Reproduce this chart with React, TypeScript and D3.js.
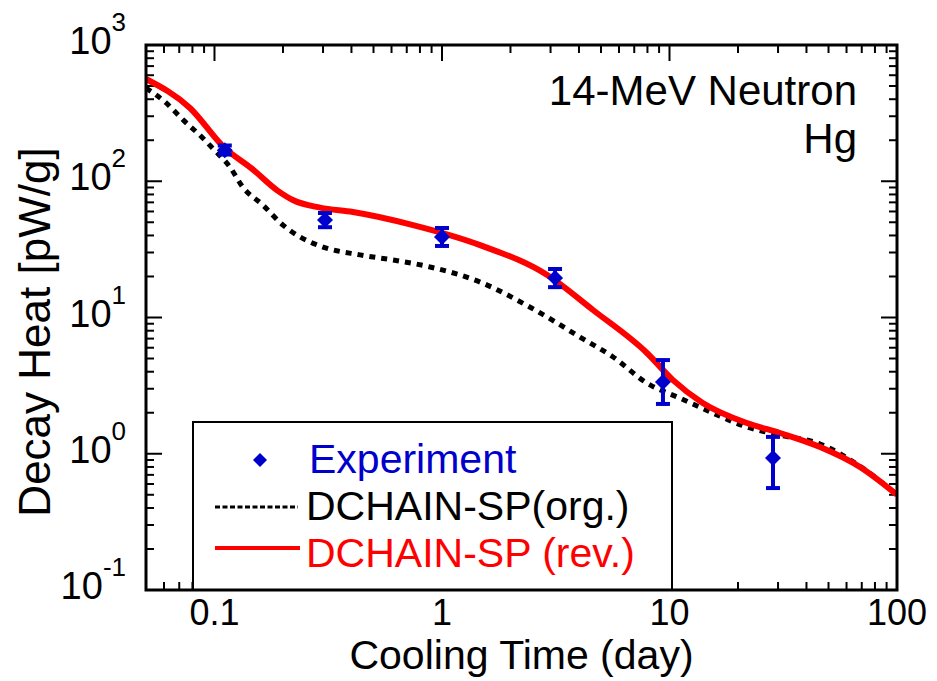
import React from "react";
import * as d3 from "d3";

const W = 937;
const H = 681;

// Experiment: cooling time (day), decay heat (pW/g), error low/high
const expTime = [0.111, 0.306, 1.0, 3.14, 9.36, 28.5];
const expValue = [169, 52, 39, 19.5, 3.36, 0.93];
const expLow = [157, 46, 33.5, 16.7, 2.32, 0.56];
const expHigh = [183, 58.5, 45.4, 22.7, 4.87, 1.33];

// DCHAIN-SP (rev.)
const revTime = [0.05, 0.078, 0.111, 0.145, 0.19, 0.221, 0.291, 0.406, 0.746, 1.47, 2.9, 4.61, 7.96, 10.36, 14.0, 21.9, 30.6, 45.9, 68.7, 100];
const revValue = [563, 345, 175, 125, 85, 72.8, 64, 59.5, 47.7, 34, 20.5, 11.35, 5.49, 3.47, 2.36, 1.68, 1.42, 1.12, 0.8, 0.5];

// DCHAIN-SP (org.)
const orgTime = [0.05, 0.0606, 0.0728, 0.089, 0.098, 0.117, 0.133, 0.163, 0.2, 0.238, 0.3, 0.437, 0.61, 0.885, 1.47, 2.44, 4.04, 5.65, 7.96, 11.1, 15.5, 21.9, 30.6, 45.9, 68.7, 100];
const orgValue = [483, 382, 282, 207, 175, 127, 90.8, 67, 47.7, 39, 32.9, 28.8, 26.4, 23.5, 18.2, 11.9, 7.19, 5.13, 3.3, 2.56, 1.99, 1.57, 1.37, 1.18, 0.81, 0.5];

const xTickValues = [0.1, 1, 10, 100];
const xTickLabels = ["0.1", "1", "10", "100"];
const yExponents = [3, 2, 1, 0, -1];

const BLUE = "#0000cc";
const RED = "#ff0000";
const FONT = "'Liberation Sans', Arial, sans-serif";

export default function App() {
  const left = 146, right = 897, top = 45, bottom = 590;
  const x = d3.scaleLog().domain([0.05, 100]).range([left, right]);
  const y = d3.scaleLog().domain([0.1, 1000]).range([bottom, top]);

  const line = d3
    .line<[number, number]>()
    .x((d) => x(d[0]))
    .y((d) => y(d[1]))
    .curve(d3.curveMonotoneX);

  const revPts = revTime.map((t, i) => [t, revValue[i]] as [number, number]);
  const orgPts = orgTime.map((t, i) => [t, orgValue[i]] as [number, number]);

  const xMinor: number[] = [];
  for (let dec = 0.01; dec < 100; dec *= 10) {
    for (let k = 2; k <= 9; k++) {
      const v = dec * k;
      if (v > 0.05 && v < 100) xMinor.push(+v.toPrecision(3));
    }
  }
  const yMinor: number[] = [];
  for (let dec = 0.1; dec < 1000; dec *= 10) {
    for (let k = 2; k <= 9; k++) yMinor.push(+(dec * k).toPrecision(3));
  }

  const diamond = (cx: number, cy: number, r: number) =>
    `M${cx},${cy - r}L${cx + r},${cy}L${cx},${cy + r}L${cx - r},${cy}Z`;

  const majLen = 16, minLen = 8;

  return (
    <svg width={W} height={H} style={{ position: "absolute", left: 0, top: 0, background: "#fff" }} fontFamily={FONT}>
      <rect x={0} y={0} width={W} height={H} fill="#fff" />
      <defs>
        <clipPath id="plotclip">
          <rect x={left} y={top} width={right - left} height={bottom - top} />
        </clipPath>
      </defs>

      {/* ticks */}
      <g stroke="#000" strokeWidth={2}>
        {xTickValues.map((v) => (
          <g key={"xt" + v}>
            <line x1={x(v)} x2={x(v)} y1={bottom} y2={bottom - majLen} />
            <line x1={x(v)} x2={x(v)} y1={top} y2={top + majLen} />
          </g>
        ))}
        {xMinor.map((v) => (
          <g key={"xm" + v}>
            <line x1={x(v)} x2={x(v)} y1={bottom} y2={bottom - minLen} />
            <line x1={x(v)} x2={x(v)} y1={top} y2={top + minLen} />
          </g>
        ))}
        {yExponents.map((e) => (
          <g key={"yt" + e}>
            <line x1={left} x2={left + majLen} y1={y(Math.pow(10, e))} y2={y(Math.pow(10, e))} />
            <line x1={right} x2={right - majLen} y1={y(Math.pow(10, e))} y2={y(Math.pow(10, e))} />
          </g>
        ))}
        {yMinor.map((v) => (
          <g key={"ym" + v}>
            <line x1={left} x2={left + minLen} y1={y(v)} y2={y(v)} />
            <line x1={right} x2={right - minLen} y1={y(v)} y2={y(v)} />
          </g>
        ))}
      </g>

      {/* curves */}
      <g clipPath="url(#plotclip)">
        <path d={line(orgPts) || ""} fill="none" stroke="#000" strokeWidth={5} strokeDasharray="6,6" />
        <path d={line(revPts) || ""} fill="none" stroke={RED} strokeWidth={6} />
      </g>

      {/* experiment */}
      <g>
        {expTime.map((t, i) => {
          const cx = x(t);
          return (
            <g key={"e" + i} stroke={BLUE} strokeWidth={4}>
              <line x1={cx} x2={cx} y1={y(expLow[i])} y2={y(expHigh[i])} />
              <line x1={cx - 7} x2={cx + 7} y1={y(expLow[i])} y2={y(expLow[i])} />
              <line x1={cx - 7} x2={cx + 7} y1={y(expHigh[i])} y2={y(expHigh[i])} />
              <path d={diamond(cx, y(expValue[i]), 8)} fill={BLUE} stroke="none" />
            </g>
          );
        })}
      </g>

      {/* legend */}
      <g>
        <rect x={193} y={422} width={479} height={168} fill="#fff" stroke="#000" strokeWidth={2} />
        <path d={diamond(260, 460, 7)} fill={BLUE} />
        <text x={309} y={473} fontSize={41} fill={BLUE}>Experiment</text>
        <line x1={215} x2={298} y1={507} y2={507} stroke="#000" strokeWidth={3} strokeDasharray="5,2.5" />
        <text x={306} y={520} fontSize={41} fill="#000">DCHAIN-SP(org.)</text>
        <line x1={215} x2={300} y1={548} y2={548} stroke={RED} strokeWidth={4} />
        <text x={306} y={567} fontSize={41} fill={RED}>DCHAIN-SP (rev.)</text>
      </g>

      {/* frame */}
      <rect x={left} y={top} width={right - left} height={bottom - top} fill="none" stroke="#000" strokeWidth={3} />

      {/* tick labels */}
      <g fill="#000">
        {xTickValues.map((v, i) => (
          <text key={"xl" + v} x={x(v)} y={625} textAnchor="middle" fontSize={36}>{xTickLabels[i]}</text>
        ))}
        {yExponents.map((e) => (
          <text key={"yl" + e} x={126} y={y(Math.pow(10, e)) + 9} textAnchor="end" fontSize={38}>
            10
            <tspan fontSize={26} dy={-23}>{String(e)}</tspan>
          </text>
        ))}
      </g>

      {/* axis titles */}
      <text x={(left + right) / 2} y={669} textAnchor="middle" fontSize={41}>Cooling Time (day)</text>
      <text transform={`translate(50, 332) rotate(-90)`} textAnchor="middle" fontSize={44}>Decay Heat [pW/g]</text>

      {/* annotation */}
      <text x={857} y={105} textAnchor="end" fontSize={42}>14-MeV Neutron</text>
      <text x={857} y={153} textAnchor="end" fontSize={42}>Hg</text>
    </svg>
  );
}
